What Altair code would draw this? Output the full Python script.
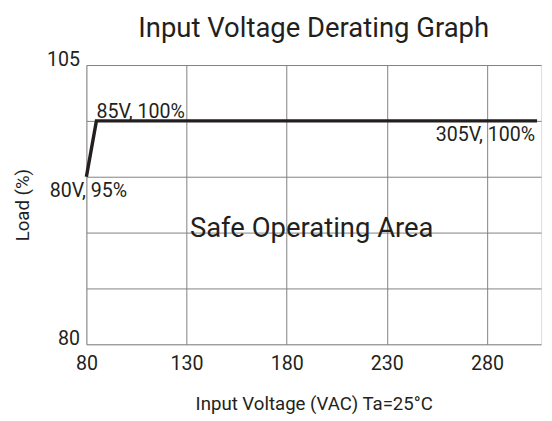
import altair as alt
import pandas as pd

# Derating curve
volts = [80, 85, 305]
load = [95, 100, 100]

# Axes
x_ticks = [80, 130, 180, 230, 280]
y_grid = [80, 85, 90, 95, 100, 105]

# Annotations
ann_text = ["85V, 100%", "80V, 95%", "305V, 100%"]
ann_x = [85, 80, 305]
ann_y = [100, 95, 100]

area_text = ["Safe Operating Area"]
area_x = [192.5]
area_y = [90.3]

FONT = "Roboto"
INK = "#231f20"
GRID = "#808080"
FS = 20

line_df = pd.DataFrame({"v": volts, "l": load})
ann_df = pd.DataFrame({"v": ann_x, "l": ann_y, "t": ann_text})
area_df = pd.DataFrame({"v": area_x, "l": area_y, "t": area_text})

xscale = alt.Scale(domain=[80, 307], nice=False, zero=False)
yscale = alt.Scale(domain=[80, 105], nice=False, zero=False)


def X():
    return alt.X(
        "v:Q", scale=xscale,
        axis=alt.Axis(values=x_ticks, title="Input Voltage (VAC) Ta=25°C",
                      grid=True, gridColor=GRID, gridWidth=1, ticks=False,
                      domain=False, labelPadding=10, titlePadding=22,
                      labelFont=FONT, labelFontSize=FS, labelColor=INK,
                      titleFont=FONT, titleFontSize=19, titleColor=INK,
                      titleFontWeight="normal", labelFlush=False,
                      labelOverlap=False))


def Y():
    return alt.Y(
        "l:Q", scale=yscale,
        axis=alt.Axis(values=y_grid, title="Load (%)",
                      labelExpr="datum.value == 80 || datum.value == 105 ? datum.label : ''",
                      grid=True, gridColor=GRID, gridWidth=1, ticks=False,
                      domain=False, labelPadding=7, titlePadding=14,
                      labelBaseline="alphabetic",
                      labelFont=FONT, labelFontSize=FS, labelColor=INK,
                      titleFont=FONT, titleFontSize=19, titleColor=INK,
                      titleFontWeight="normal", labelFlush=False,
                      labelOverlap=False))


line = alt.Chart(line_df).mark_line(color=INK, strokeWidth=3.5).encode(x=X(), y=Y())

base_text = dict(font=FONT, fontSize=FS, color=INK)
t1 = alt.Chart(ann_df).transform_filter(alt.datum.t == ann_text[0]).mark_text(
    align="left", baseline="alphabetic", dy=-3, **base_text).encode(x=X(), y=Y(), text="t:N")
t2 = alt.Chart(ann_df).transform_filter(alt.datum.t == ann_text[1]).mark_text(
    align="center", baseline="top", dx=2, dy=5, **base_text).encode(x=X(), y=Y(), text="t:N")
t3 = alt.Chart(ann_df).transform_filter(alt.datum.t == ann_text[2]).mark_text(
    align="right", baseline="top", dx=-2, dy=5, **base_text).encode(x=X(), y=Y(), text="t:N")
area = alt.Chart(area_df).mark_text(
    align="center", baseline="middle", font=FONT, fontSize=28, color=INK).encode(
    x=X(), y=Y(), text="t:N")

chart = alt.layer(line, t1, t2, t3, area).properties(
    width=464, height=285,
    title=alt.TitleParams("Input Voltage Derating Graph", font=FONT, fontSize=28,
                          fontWeight="normal", color=INK, anchor="middle",
                          frame="group", offset=7),
    padding={"left": 6, "top": 3, "right": 0, "bottom": 0},
).configure_view(stroke=GRID, strokeWidth=1.2).configure(background="white")

chart.save("out.html", embed_options={"renderer": "svg", "actions": False})
